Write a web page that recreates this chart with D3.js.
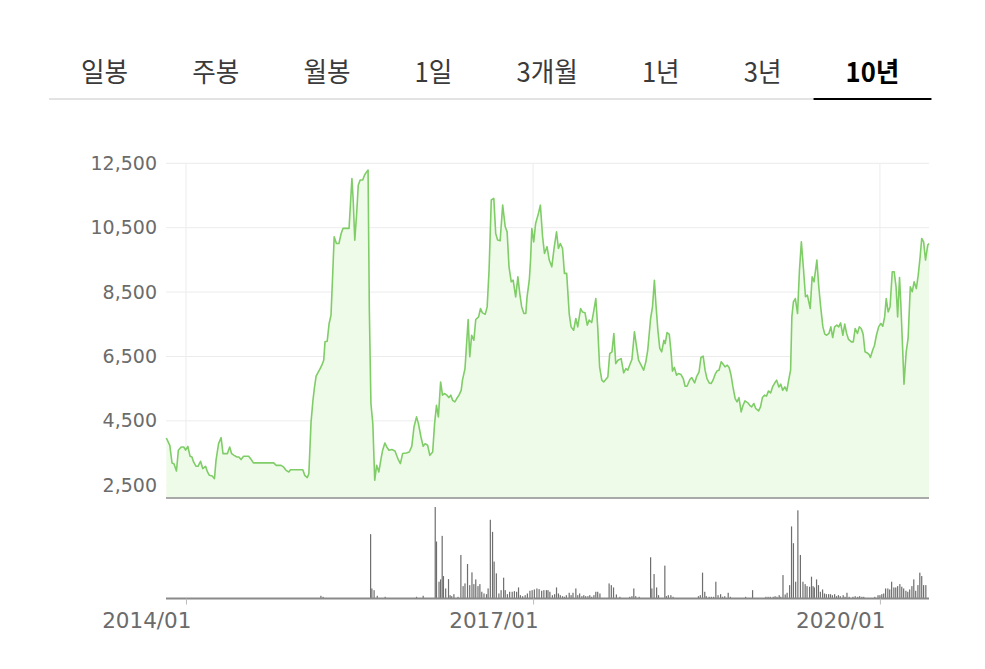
<!DOCTYPE html>
<html><head><meta charset="utf-8">
<script src="https://cdn.jsdelivr.net/npm/d3@7/dist/d3.min.js"></script>
<style>
html,body{margin:0;padding:0;background:#fff;}
svg{display:block;}
</style></head>
<body>
<svg id="chart" width="985" height="669"></svg>
<script>
// ---------- DATA ----------
const tabs = ["일봉","주봉","월봉","1일","3개월","1년","3년","10년"];
const activeTab = "10년";
const yTickValues = [2500, 4500, 6500, 8500, 10500, 12500];
const xTickDates = ["2014-01-01","2017-01-01","2020-01-01"];

const priceDates = [
"2013-10-31","2013-11-11","2013-11-18","2013-11-24","2013-12-02","2013-12-08","2013-12-17","2013-12-25","2013-12-31",
"2014-01-07","2014-01-14","2014-01-20","2014-01-25","2014-02-02","2014-02-08","2014-02-16","2014-02-23","2014-03-04",
"2014-03-10","2014-03-16","2014-03-25","2014-04-01","2014-04-06","2014-04-14","2014-04-22","2014-04-28","2014-05-12",
"2014-05-19","2014-05-25","2014-06-02","2014-06-11","2014-06-17","2014-06-24","2014-07-02","2014-07-18","2014-07-26",
"2014-08-02","2014-10-05","2014-10-13","2014-10-28","2014-11-05","2014-11-13","2014-11-22","2014-11-27","2015-01-05",
"2015-01-11","2015-01-19","2015-01-24","2015-01-31","2015-02-06","2015-02-11","2015-02-16","2015-02-20","2015-02-27",
"2015-03-06","2015-03-12","2015-03-16","2015-03-23","2015-03-29","2015-04-04","2015-04-09","2015-04-14","2015-04-21",
"2015-04-29","2015-05-06","2015-05-12","2015-05-31","2015-06-09","2015-06-13","2015-06-18","2015-06-24","2015-06-29",
"2015-07-05","2015-07-13","2015-07-19","2015-07-26","2015-07-30","2015-08-03","2015-08-08","2015-08-14","2015-08-20",
"2015-08-26","2015-09-02","2015-09-09","2015-09-14","2015-09-21","2015-09-27","2015-10-04","2015-10-13","2015-10-23",
"2015-11-01","2015-11-09","2015-11-16","2015-11-28","2015-12-07","2015-12-15","2015-12-22","2015-12-30","2016-01-05",
"2016-01-13","2016-01-20","2016-01-26","2016-02-03","2016-02-10","2016-02-19","2016-02-25","2016-03-02","2016-03-08",
"2016-03-15","2016-03-21","2016-03-27","2016-04-04","2016-04-10","2016-04-16","2016-04-22","2016-04-29","2016-05-05",
"2016-05-12","2016-05-19","2016-05-23","2016-05-31","2016-06-10","2016-06-15","2016-06-21","2016-06-28","2016-07-04",
"2016-07-13","2016-07-19","2016-07-25","2016-08-03","2016-08-09","2016-08-15","2016-08-22","2016-08-30","2016-09-05",
"2016-09-11","2016-09-19","2016-09-27","2016-10-05","2016-10-11","2016-10-17","2016-10-24","2016-10-30","2016-11-07",
"2016-11-14","2016-11-20","2016-11-26","2016-12-03","2016-12-09","2016-12-13","2016-12-20","2016-12-24","2016-12-28",
"2017-01-03","2017-01-09","2017-01-18","2017-01-24","2017-01-31","2017-02-06","2017-02-14","2017-02-21","2017-03-01",
"2017-03-09","2017-03-16","2017-03-22","2017-03-28","2017-04-04","2017-04-10","2017-04-17","2017-04-25","2017-05-01",
"2017-05-09","2017-05-16","2017-05-22","2017-05-31","2017-06-06","2017-06-14","2017-06-21","2017-06-27","2017-07-05",
"2017-07-12","2017-07-18","2017-07-24","2017-07-30","2017-08-06","2017-08-12","2017-08-19","2017-08-25","2017-08-31",
"2017-09-07","2017-09-13","2017-09-19","2017-09-26","2017-10-06","2017-10-14","2017-10-21","2017-10-27","2017-11-03",
"2017-11-09","2017-11-17","2017-11-23","2017-11-30","2017-12-08","2017-12-16","2017-12-23","2017-12-29","2018-01-07",
"2018-01-13","2018-01-19","2018-01-24","2018-01-30","2018-02-05","2018-02-11","2018-02-18","2018-02-22","2018-02-28",
"2018-03-07","2018-03-13","2018-03-17","2018-03-23","2018-03-30","2018-04-05","2018-04-13","2018-04-20","2018-04-26",
"2018-05-02","2018-05-11","2018-05-17","2018-05-26","2018-06-01","2018-06-09","2018-06-15","2018-06-22","2018-06-28",
"2018-07-04","2018-07-11","2018-07-17","2018-07-23","2018-07-30","2018-08-05","2018-08-11","2018-08-18","2018-08-24",
"2018-08-30","2018-09-06","2018-09-12","2018-09-18","2018-09-24","2018-10-01","2018-10-07","2018-10-13","2018-10-20",
"2018-10-26","2018-11-01","2018-11-10","2018-11-16","2018-11-22","2018-11-29","2018-12-05","2018-12-14","2018-12-20",
"2018-12-26","2019-01-02","2019-01-08","2019-01-14","2019-01-21","2019-01-27","2019-02-02","2019-02-09","2019-02-16",
"2019-02-22","2019-02-28","2019-03-07","2019-03-13","2019-03-19","2019-03-25","2019-03-29","2019-04-03","2019-04-09",
"2019-04-16","2019-04-22","2019-04-28","2019-05-05","2019-05-11","2019-05-17","2019-05-26","2019-06-01","2019-06-07",
"2019-06-16","2019-06-22","2019-06-28","2019-07-05","2019-07-11","2019-07-17","2019-07-24","2019-07-30","2019-08-05",
"2019-08-11","2019-08-18","2019-08-24","2019-08-30","2019-09-06","2019-09-12","2019-09-18","2019-09-24","2019-10-03",
"2019-10-09","2019-10-15","2019-10-22","2019-10-28","2019-11-03","2019-11-09","2019-11-15","2019-11-22","2019-11-28",
"2019-12-02","2019-12-09","2019-12-15","2019-12-21","2019-12-28","2020-01-04","2020-01-10","2020-01-16","2020-01-21",
"2020-01-27","2020-02-02","2020-02-09","2020-02-15","2020-02-21","2020-02-26","2020-03-03","2020-03-07","2020-03-13",
"2020-03-17","2020-03-24","2020-03-30","2020-04-06","2020-04-12","2020-04-18","2020-04-25","2020-05-01","2020-05-07",
"2020-05-12","2020-05-18","2020-05-24","2020-05-31","2020-06-04"
];
const priceValues = [
3970,3740,3195,3170,2945,3590,3690,3690,3590,
3710,3400,3380,3225,3090,3090,3245,3020,3090,
2915,2810,2790,2705,3280,3795,3980,3485,3485,
3690,3485,3430,3380,3380,3300,3400,3400,3300,
3195,3195,3120,3120,3070,2965,2915,2985,2985,
2810,2740,2860,4470,5140,5560,5890,5970,6095,
6230,6385,6955,6975,7525,7785,8975,10220,10010,
10010,10320,10480,10480,12030,11360,10115,10940,11820,
11980,11980,12135,12240,12290,7940,5040,4415,2655,
3120,2915,3330,3590,3815,3690,3590,3610,3565,
3330,3175,3485,3505,3535,3710,4310,4625,4415,
4000,3710,3795,3745,3430,3535,4415,4985,4625,
5710,5300,5350,5300,5225,5300,5140,5090,5195,
5300,5450,5765,6125,7650,6490,7160,7005,7650,
7730,7990,7855,7815,8040,9180,11360,11410,10320,
10115,10095,11200,10530,10370,9285,8820,8870,8350,
8975,8455,8040,7835,7835,8350,8870,9495,10475,
10060,10630,10945,11200,10220,9700,9910,9495,9285,
9910,10370,9855,10010,9855,9080,9080,7835,7420,
7315,7680,7420,7990,7885,7855,7475,7630,7555,
7940,8300,7420,6180,5765,5710,5795,5865,6590,
6645,7215,6280,6385,6435,5990,6125,6075,6260,
6405,7265,6850,6385,6230,6075,6335,6695,7680,
8040,8870,8095,7315,6750,6645,7005,6900,7245,
7185,6590,6045,6160,5920,5970,5940,5815,5575,
5575,5785,5845,5680,5865,6020,6470,6510,6075,
5815,5680,5660,5765,5950,6055,6075,6335,6260,
6180,6230,6160,5920,5555,5195,5090,5225,4780,
4985,5120,5060,4985,4935,5040,4885,4810,4935,
5225,5300,5270,5430,5370,5555,5660,5765,5555,
5640,5450,5555,5430,5765,6075,7730,8200,8300,
7835,9180,10060,9180,8355,8405,7990,8975,8820,
9495,8665,8040,7420,7195,7160,7215,7420,7090,
7420,7475,7420,7545,7160,7505,7215,7030,6955,
6955,7370,7215,7420,7370,7195,6645,6610,6560,
6470,6695,6850,7160,7420,7525,7440,7730,8300,
7885,8040,9130,9130,8665,7730,8955,8145,6695,
5640,6645,7060,8665,8510,8820,8610,9025,9595,
10165,10060,9495,9960,10010
];

const volumeDates = [
"2015-03-03","2015-03-10","2015-08-07","2015-08-11","2015-08-18","2015-08-28","2015-09-22","2015-12-30","2016-01-20",
"2016-02-27","2016-03-02","2016-03-10","2016-03-15","2016-03-20","2016-03-24","2016-03-31","2016-04-09","2016-04-14",
"2016-04-19","2016-04-26","2016-05-09","2016-05-18","2016-05-25","2016-05-31","2016-06-08","2016-06-15","2016-06-22",
"2016-06-28","2016-07-04","2016-07-11","2016-07-17","2016-07-23","2016-07-30","2016-08-07","2016-08-12","2016-08-19",
"2016-08-26","2016-08-31","2016-09-07","2016-09-15","2016-09-22","2016-09-30","2016-10-05","2016-10-12","2016-10-19",
"2016-10-27","2016-11-03","2016-11-10","2016-11-16","2016-11-22","2016-11-29","2016-12-07","2016-12-14","2016-12-22",
"2016-12-29","2017-01-05","2017-01-13","2017-01-20","2017-01-28","2017-02-04","2017-02-12","2017-02-17","2017-02-23",
"2017-03-03","2017-03-10","2017-03-16","2017-03-22","2017-03-28","2017-04-04","2017-04-10","2017-04-16","2017-04-25",
"2017-05-01","2017-05-07","2017-05-16","2017-05-22","2017-05-28","2017-06-04","2017-06-10","2017-06-16","2017-06-23",
"2017-06-29","2017-07-05","2017-07-12","2017-07-18","2017-07-24","2017-07-31","2017-08-29","2017-09-05","2017-09-12",
"2017-09-21","2017-10-02","2017-11-02","2017-11-09","2017-11-15","2017-11-21","2017-12-02","2018-01-07","2018-01-11",
"2018-01-18","2018-01-26","2018-02-01","2018-02-21","2018-02-26","2018-03-04","2018-03-12","2018-03-19","2018-06-07",
"2018-06-13","2018-06-20","2018-06-27","2018-07-02","2018-07-11","2018-07-18","2018-07-25","2018-08-01","2018-08-08",
"2018-08-16","2018-08-22","2018-08-29","2018-09-09","2018-09-16","2018-11-03","2018-11-25","2019-01-06","2019-01-13",
"2019-01-20","2019-01-29","2019-02-04","2019-02-10","2019-02-17","2019-02-22","2019-03-01","2019-03-08","2019-03-14",
"2019-03-22","2019-03-28","2019-04-03","2019-04-10","2019-04-17","2019-04-25","2019-05-03","2019-05-10","2019-05-16",
"2019-05-24","2019-05-30","2019-06-04","2019-06-08","2019-06-15","2019-06-21","2019-06-27","2019-07-04","2019-07-10",
"2019-07-16","2019-07-23","2019-07-29","2019-08-04","2019-08-11","2019-08-17","2019-08-23","2019-08-29","2019-09-07",
"2019-09-13","2019-09-19","2019-09-26","2019-10-08","2019-10-15","2019-10-23","2019-10-29","2019-11-05","2019-11-11",
"2019-12-16","2019-12-26","2020-01-01","2020-01-07","2020-01-13","2020-01-19","2020-01-26","2020-02-01","2020-02-07",
"2020-02-14","2020-02-20","2020-02-26","2020-03-04","2020-03-10","2020-03-16","2020-03-23","2020-03-29","2020-04-04",
"2020-04-11","2020-04-17","2020-04-23","2020-04-30","2020-05-06","2020-05-12","2020-05-18","2020-05-25"
];
const volumeValues = [
27,17,640,100,83,27,17,17,27,
910,567,167,190,623,223,100,193,33,
23,43,17,433,123,150,343,133,260,
143,190,123,143,67,50,43,100,783,
663,367,250,50,83,207,83,43,67,
67,73,67,110,33,23,33,50,77,
83,90,100,93,77,83,83,83,67,
33,43,110,50,33,23,17,33,57,
33,57,100,33,50,23,33,23,23,
33,17,33,67,67,50,150,133,110,
40,17,17,23,100,23,17,410,100,
243,110,33,327,23,33,33,17,23,
33,257,67,23,17,17,17,167,33,
43,17,23,57,17,17,83,17,17,
17,17,23,17,33,17,233,40,57,
133,717,550,167,877,433,167,143,123,
117,217,123,110,190,133,67,90,50,
43,43,43,33,43,23,33,23,33,
17,57,17,17,23,17,23,17,17,
17,33,33,43,50,100,100,90,167,
110,110,123,143,117,100,77,67,90,
123,190,77,133,257,223,133,133
];

// ---------- LAYOUT ----------
const svg = d3.select("#chart");
const plotLeft = 166, plotRight = 929;
const priceTop = 163.3, priceBottom2500 = 485.3, priceBase = 498;
const volBase = 598.5, volTop = 505;

const parse = d3.timeParse("%Y-%m-%d");
const x = d3.scaleTime()
  .domain([parse("2013-10-30"), parse("2020-06-04")])
  .range([plotLeft, plotRight]);
const y = d3.scaleLinear().domain([2500, 12500]).range([priceBottom2500, priceTop]);
const yv = d3.scaleLinear().domain([0, 930]).range([volBase, volTop]);

const prices = priceDates.map((d, i) => ({date: parse(d), value: priceValues[i]}));
const vols = volumeDates.map((d, i) => ({date: parse(d), value: volumeValues[i]}));

// ---------- TABS ----------
const tabG = svg.append("g");
const gap = 64, pad = 32;
let cursor = 81;
const sx = 0.95;
let firstLeft = cursor - pad, lastRight = 0;
tabs.forEach(t => {
  const active = t === activeTab;
  const txt = tabG.append("text")
    .text(t)
    .attr("font-family", "'Noto Sans CJK KR','Noto Sans',sans-serif")
    .attr("font-size", 27)
    .attr("font-weight", active ? 700 : 400)
    .attr("fill", active ? "#000" : "#3a3a3a")
    .attr("y", 82);
  const w = txt.node().getComputedTextLength() * sx;
  txt.attr("transform", `translate(${cursor},0) scale(${sx},1)`);
  if (active) {
    tabG.append("rect").attr("x", cursor - pad).attr("y", 98).attr("width", w + 2 * pad).attr("height", 2).attr("fill", "#000");
  }
  lastRight = cursor + w + pad;
  cursor += w + gap;
});
tabG.insert("rect", ":first-child").attr("x", firstLeft).attr("y", 98).attr("width", lastRight - firstLeft).attr("height", 2).attr("fill", "#e3e3e3");

// ---------- GRID ----------
const grid = svg.append("g");
grid.selectAll("line.h").data(yTickValues).join("line")
  .attr("x1", plotLeft).attr("x2", plotRight)
  .attr("y1", d => y(d)).attr("y2", d => y(d))
  .attr("stroke", "#ececec").attr("stroke-width", 1);
grid.selectAll("line.v").data(xTickDates).join("line")
  .attr("x1", d => x(parse(d))).attr("x2", d => x(parse(d)))
  .attr("y1", priceTop).attr("y2", priceBase)
  .attr("stroke", "#ececec").attr("stroke-width", 1);

// ---------- PRICE AREA ----------
const area = d3.area().x(d => x(d.date)).y0(priceBase).y1(d => y(d.value));
const line = d3.line().x(d => x(d.date)).y(d => y(d.value));
svg.append("path").datum(prices).attr("d", area).attr("fill", "#effbe9");
svg.append("path").datum(prices).attr("d", line).attr("fill", "none")
  .attr("stroke", "#7fcd67").attr("stroke-width", 1.6).attr("stroke-linejoin", "round");
svg.append("line").attr("x1", plotLeft).attr("x2", plotRight).attr("y1", priceBase).attr("y2", priceBase)
  .attr("stroke", "#a9a9a9").attr("stroke-width", 2);

// ---------- Y AXIS ----------
const yAxis = d3.axisLeft(y).tickValues(yTickValues).tickFormat(d3.format(",")).tickSize(0).tickPadding(0);
const yg = svg.append("g").attr("transform", `translate(157,0)`).call(yAxis);
yg.select(".domain").remove();
yg.selectAll("text").attr("font-family", "'DejaVu Sans',sans-serif").attr("font-size", 19).attr("fill", "#6b6b6b");

// ---------- VOLUME ----------
svg.append("g").selectAll("rect").data(vols).join("rect")
  .attr("x", d => x(d.date) - 0.6).attr("width", 1.2)
  .attr("y", d => yv(d.value)).attr("height", d => volBase - yv(d.value))
  .attr("fill", "#6e6e6e");
svg.append("line").attr("x1", plotLeft).attr("x2", plotRight).attr("y1", volBase).attr("y2", volBase)
  .attr("stroke", "#8a8a8a").attr("stroke-width", 2);

// ---------- X AXIS ----------
const xAxis = d3.axisBottom(x).tickValues(xTickDates.map(parse)).tickFormat(d3.timeFormat("%Y/%m")).tickSize(6).tickPadding(8);
const xg = svg.append("g").attr("transform", `translate(0,${volBase})`).call(xAxis);
xg.select(".domain").remove();
xg.selectAll("line").attr("stroke", "#bbb");
xg.selectAll("text").attr("font-family", "'DejaVu Sans',sans-serif").attr("font-size", 21.5).attr("fill", "#6b6b6b")
  .attr("text-anchor", "end").attr("dx", 5);
</script>
</body></html>
